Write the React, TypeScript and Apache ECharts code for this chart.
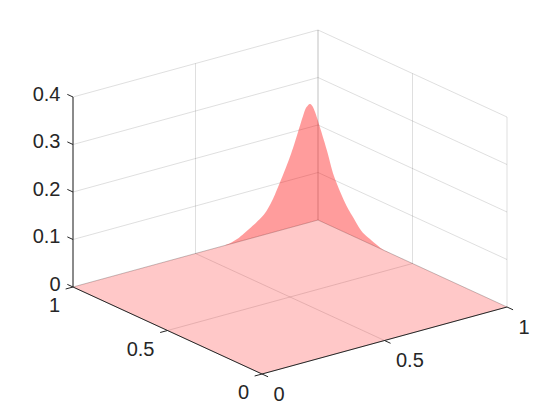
import React, { useEffect, useRef } from "react";
import * as echarts from "echarts";

// Tick values of the three axes
const xTicks = [0, 0.5, 1];
const yTicks = [0, 0.5, 1];
const zTicks = [0, 0.1, 0.2, 0.3, 0.4];
const xTickLabels = ["0", "0.5", "1"];
const yTickLabels = ["0", "0.5", "1"];
const zTickLabels = ["0", "0.1", "0.2", "0.3", "0.4"];

// Outline of the surface's peak as seen from the camera, as x, y, z lists
const peakX = [0.62, 0.65, 0.68, 0.714, 0.75, 0.784, 0.812, 0.837, 0.873, 0.898, 0.927, 0.947, 0.957, 0.967, 0.977, 0.988, 1, 1, 1, 1, 1, 1, 1, 1, 1, 1];
const peakY = [1, 1, 1, 1, 1, 1, 1, 1, 1, 1, 1, 1, 1, 1, 1, 1, 0.995, 0.952, 0.921, 0.884, 0.85, 0.815, 0.77, 0.725, 0.661, 0.62];
const peakZ = [0, 0.003, 0.009, 0.0194, 0.031, 0.0453, 0.0665, 0.0924, 0.1337, 0.166, 0.21, 0.239, 0.246, 0.249, 0.243, 0.229, 0.203, 0.154, 0.1135, 0.082, 0.058, 0.04, 0.019, 0.0103, 0.001, 0];

// Floor of the surface (z = 0)
const floorX = [0, 1, 1, 0];
const floorY = [0, 0, 1, 1];
const floorZ = [0, 0, 0, 0];

type P3 = [number, number, number];

// Orthographic view: normalised plot coordinates from data coordinates
const project = (p: P3): [number, number] => [
  (189 + 245 * p[0] - 189 * p[1]) / 434,
  (67 * p[0] + 87 * p[1] + 475 * p[2]) / 342,
];

const FONT = "'Liberation Sans', Arial, sans-serif";
const INK = "#262626";

const gridSegments: [P3, P3][] = [];
zTicks.forEach((z) => {
  gridSegments.push([[0, 1, z], [1, 1, z]]);
  gridSegments.push([[1, 1, z], [1, 0, z]]);
});
xTicks.forEach((x) => {
  gridSegments.push([[x, 1, 0], [x, 1, 0.4]]);
  gridSegments.push([[x, 0, 0], [x, 1, 0]]);
});
yTicks.forEach((y) => {
  gridSegments.push([[1, y, 0], [1, y, 0.4]]);
  gridSegments.push([[0, y, 0], [1, y, 0]]);
});

const axisSegments: [P3, P3][] = [
  [[0, 0, 0], [1, 0, 0]],
  [[0, 0, 0], [0, 1, 0]],
  [[0, 1, 0], [0, 1, 0.4]],
];
xTicks.forEach((x) => axisSegments.push([[x, 0, 0], [x, -0.032, 0]]));
yTicks.forEach((y) => axisSegments.push([[0, y, 0], [-0.03, y, 0]]));
zTicks.forEach((z) => axisSegments.push([[0, 1, z], [0, 1.03, z]]));

type Label = { text: string; at: P3; dx: number; dy: number; align: string };
const labels: Label[] = [
  ...xTicks.map((x, i) => ({ text: xTickLabels[i], at: [x, 0, 0] as P3, dx: 11.5, dy: 19.5, align: "left" })),
  ...yTicks.map((y, i) => ({ text: yTickLabels[i], at: [0, y, 0] as P3, dx: -13, dy: 18, align: "right" })),
  ...zTicks.map((z, i) => ({ text: zTickLabels[i], at: [0, 1, z] as P3, dx: -12.5, dy: -3.5, align: "right" })),
];

const segmentRenderer = (segments: [P3, P3][], stroke: string) => (params: any, api: any) => {
  const [a, b] = segments[params.dataIndex];
  const p = api.coord(project(a));
  const q = api.coord(project(b));
  return {
    type: "line",
    shape: { x1: p[0], y1: p[1], x2: q[0], y2: q[1] },
    style: { stroke, lineWidth: 1, fill: "none" },
    silent: true,
  };
};

const polygonRenderer = (xs: number[], ys: number[], zs: number[], fill: string) => (_: any, api: any) => ({
  type: "polygon",
  shape: { points: xs.map((x, i) => api.coord(project([x, ys[i], zs[i]]))) },
  style: { fill, stroke: "none" },
  silent: true,
});

// Smooth curve through the outline's points, closed along the floor's back corner
const outlineRenderer = (xs: number[], ys: number[], zs: number[], corner: P3, fill: string) => (_: any, api: any) => {
  const pts: number[][] = xs.map((x, i) => api.coord(project([x, ys[i], zs[i]])));
  const out: number[][] = [];
  for (let i = 0; i < pts.length - 1; i++) {
    const p0 = pts[Math.max(i - 1, 0)];
    const p1 = pts[i];
    const p2 = pts[i + 1];
    const p3 = pts[Math.min(i + 2, pts.length - 1)];
    for (let s = 0; s < 6; s++) {
      const t = s / 6;
      const f = (k: number) =>
        0.5 * (2 * p1[k] + (p2[k] - p0[k]) * t + (2 * p0[k] - 5 * p1[k] + 4 * p2[k] - p3[k]) * t * t + (3 * p1[k] - p0[k] - 3 * p2[k] + p3[k]) * t * t * t);
      out.push([f(0), f(1)]);
    }
  }
  out.push(pts[pts.length - 1]);
  out.push(api.coord(project(corner)));
  return { type: "polygon", shape: { points: out }, style: { fill, stroke: "none" }, silent: true };
};

const labelRenderer = (params: any, api: any) => {
  const l = labels[params.dataIndex];
  const p = api.coord(project(l.at));
  return {
    type: "text",
    silent: true,
    style: {
      text: l.text,
      x: p[0] + l.dx,
      y: p[1] + l.dy,
      fill: INK,
      fontSize: 20,
      fontFamily: FONT,
      align: l.align,
      verticalAlign: "middle",
    },
  };
};

const custom = (data: any[], renderItem: any) => ({
  type: "custom",
  coordinateSystem: "cartesian2d",
  clip: false,
  silent: true,
  animation: false,
  data: data.map((_, i) => [i, 0]),
  renderItem,
});

export default function App() {
  const ref = useRef<HTMLDivElement>(null);
  useEffect(() => {
    document.body.style.margin = "0";
    const chart = echarts.init(ref.current!, undefined, { renderer: "svg" });
    chart.setOption({
      animation: false,
      backgroundColor: "#ffffff",
      grid: { left: 73, top: 32, width: 434, height: 342 },
      xAxis: { type: "value", min: 0, max: 1, show: false },
      yAxis: { type: "value", min: 0, max: 1, show: false },
      tooltip: { show: false },
      series: [
        custom(gridSegments, segmentRenderer(gridSegments, "rgba(38,38,38,0.15)")),
        custom([0], polygonRenderer(floorX, floorY, floorZ, "rgba(255,0,0,0.215)")),
        custom([0], outlineRenderer(peakX, peakY, peakZ, [1, 1, 0], "rgba(255,0,0,0.39)")),
        custom(axisSegments, segmentRenderer(axisSegments, INK)),
        custom(labels, labelRenderer),
      ],
    });
    return () => chart.dispose();
  }, []);
  return <div ref={ref} style={{ width: 560, height: 420 }} />;
}
